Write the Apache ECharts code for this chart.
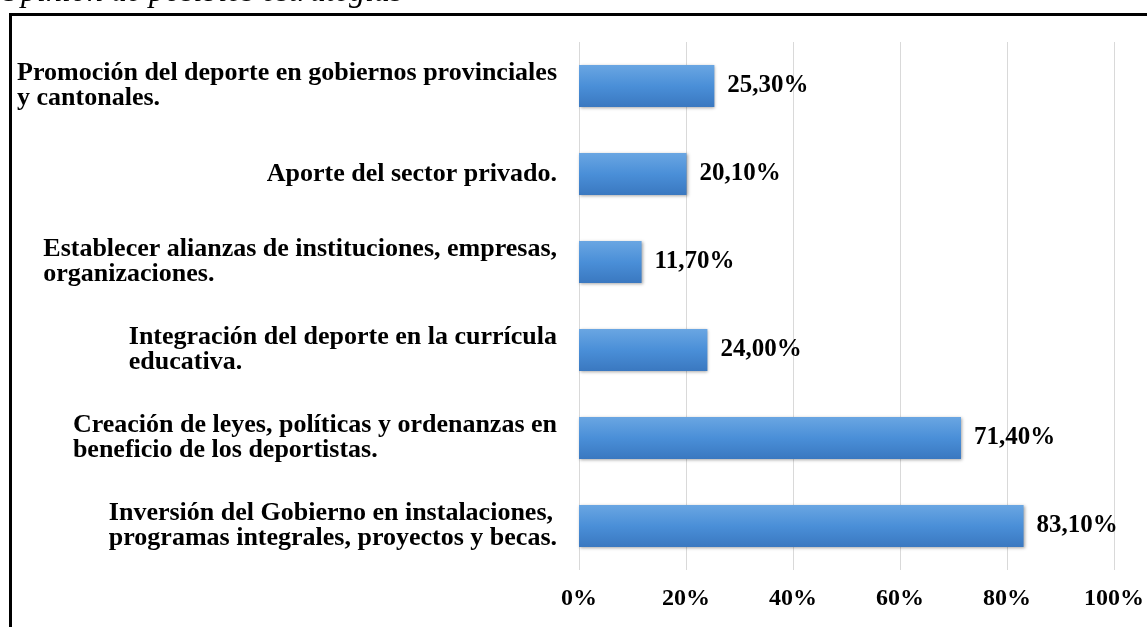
<!DOCTYPE html>
<html>
<head>
<meta charset="utf-8">
<script src="https://cdn.jsdelivr.net/npm/echarts@6/dist/echarts.min.js"></script>
<style>
html,body{margin:0;padding:0;background:#fff;}
#chart{width:1147px;height:627px;}
</style>
</head>
<body>
<div id="chart"></div>
<script>
const titleText = 'Opinión de posibles estrategias';
const categories = [
  'Promoción del deporte en gobiernos provinciales\ny cantonales.',
  'Aporte del sector privado.',
  'Establecer alianzas de instituciones, empresas,\norganizaciones.',
  'Integración del deporte en la currícula\neducativa.',
  'Creación de leyes, políticas y ordenanzas en\nbeneficio de los deportistas.',
  'Inversión del Gobierno en instalaciones,\nprogramas integrales, proyectos y becas.'
];
const values = [25.3, 20.1, 11.7, 24.0, 71.4, 83.1];
const xTicks = [0, 20, 40, 60, 80, 100];

const serif = '"Liberation Serif", "Times New Roman", serif';
const chart = echarts.init(document.getElementById('chart'));
chart.setOption({
  animation: false,
  backgroundColor: '#ffffff',
  title: {
    text: titleText,
    left: -2,
    top: -23,
    padding: 0,
    textStyle: {fontFamily: serif, fontStyle: 'italic', fontWeight: 'normal', fontSize: 32, color: '#000'}
  },
  graphic: [{
    type: 'rect',
    left: 8, top: 12,
    shape: {width: 1200, height: 700},
    style: {fill: 'none', stroke: '#000', lineWidth: 3},
    silent: true
  }],
  grid: {left: 579, right: 31, top: 42, bottom: 57, containLabel: false},
  xAxis: {
    type: 'value',
    min: xTicks[0], max: xTicks[xTicks.length - 1], interval: 20,
    axisLine: {show: false},
    axisTick: {show: false},
    splitLine: {show: true, lineStyle: {color: '#d9d9d9', width: 1}},
    axisLabel: {
      margin: 17,
      formatter: v => v + '%',
      fontFamily: serif, fontWeight: 'bold', fontSize: 24, color: '#000'
    }
  },
  yAxis: {
    type: 'category',
    inverse: true,
    data: categories,
    axisLine: {show: false},
    axisTick: {show: false},
    axisLabel: {
      margin: 22,
      align: 'right',
      formatter: v => v.split('\n').map(l => '{a|' + l + '}').join('\n'),
      rich: {
        a: {align: 'left', fontFamily: serif, fontWeight: 'bold', fontSize: 26, lineHeight: 25, color: '#000'}
      }
    }
  },
  series: [{
    type: 'bar',
    data: values,
    barWidth: 42,
    itemStyle: {
      color: new echarts.graphic.LinearGradient(0, 0, 0, 1, [
        {offset: 0, color: '#6aa6e2'},
        {offset: 0.5, color: '#4a8fd8'},
        {offset: 1, color: '#3a78c0'}
      ]),
      shadowBlur: 3,
      shadowColor: 'rgba(0,0,0,0.35)',
      shadowOffsetX: 1,
      shadowOffsetY: 1
    },
    label: {
      show: true,
      position: 'right',
      distance: 13,
      formatter: p => p.value.toFixed(2).replace('.', ',') + '%',
      fontFamily: serif, fontWeight: 'bold', fontSize: 25, color: '#000'
    }
  }]
});
</script>
</body>
</html>
